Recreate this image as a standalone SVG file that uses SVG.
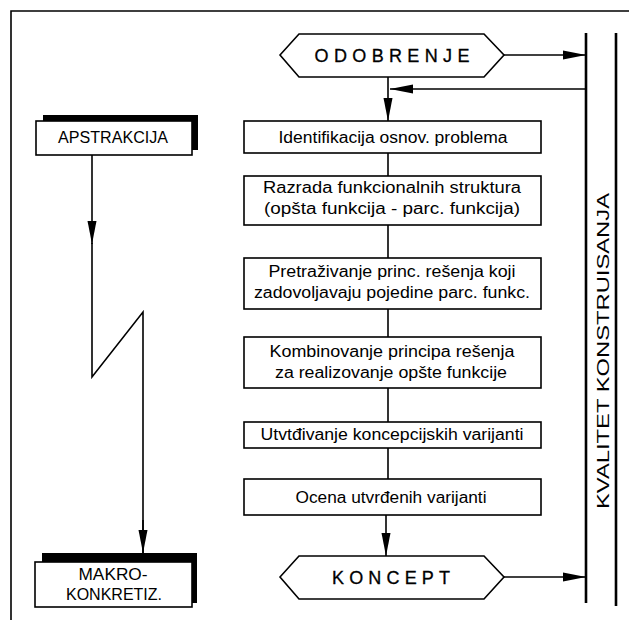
<svg xmlns="http://www.w3.org/2000/svg" width="629" height="620" viewBox="0 0 629 620">
<style>
.box{fill:#fff;stroke:#000;stroke-width:1.6}
.shadow{fill:#000}
.ln{fill:none;stroke:#000;stroke-width:1.6}
.bar{fill:none;stroke:#000;stroke-width:2.6}
.t{font-family:"Liberation Sans",Arial,sans-serif;font-size:16px;fill:#000;text-anchor:middle}
.big{font-family:"Liberation Sans",Arial,sans-serif;font-size:18px;fill:#000;stroke:#000;stroke-width:0.3;text-anchor:middle}
</style>
<defs>
<marker id="ah" markerUnits="userSpaceOnUse" markerWidth="23" markerHeight="10" refX="23" refY="5" orient="auto">
<path d="M0,0.5 L23,5 L0,9.5 z" fill="#000"/>
</marker>
</defs>
<rect width="629" height="620" fill="#fff"/>
<g id="frame">
<path class="ln" d="M11,620 V11 H629"/>
</g>
<g id="connectors">
<path class="ln" d="M504,55 H586" marker-end="url(#ah)"/>
<path class="ln" d="M586,89 H390" marker-end="url(#ah)"/>
<path class="ln" d="M388,77 V121" marker-end="url(#ah)"/>
<path class="ln" d="M388,153 V176"/>
<path class="ln" d="M388,225 V258"/>
<path class="ln" d="M388,309 V337"/>
<path class="ln" d="M388,388 V422"/>
<path class="ln" d="M388,448 V479"/>
<path class="ln" d="M386,515 V556" marker-end="url(#ah)"/>
<path class="ln" d="M504,577 H586" marker-end="url(#ah)"/>
<path class="ln" d="M92,155 V244" marker-end="url(#ah)"/>
<path class="ln" d="M92,243 V377 L143,312 V553"/>
<path class="ln" d="M143,520 V553" marker-end="url(#ah)"/>
</g>
<g id="quality">
<path class="bar" d="M586,33 V603"/>
<path class="bar" d="M616,33 V606"/>
<text class="t" transform="translate(609,351) rotate(-90)" font-size="22" textLength="316" lengthAdjust="spacingAndGlyphs">KVALITET KONSTRUISANJA</text>
</g>
<g id="odobrenje">
<polygon class="box" points="280,55 299,34 484,34 504,55 484,77 299,77"/>
<text class="big" x="392" y="62" textLength="155" lengthAdjust="spacing">ODOBRENJE</text>
</g>
<g id="n1">
<rect class="box" x="244" y="121" width="297" height="32"/>
<text class="t" x="393" y="143" textLength="229" lengthAdjust="spacingAndGlyphs">Identifikacija osnov. problema</text>
</g>
<g id="n2">
<rect class="box" x="244" y="176" width="297" height="49"/>
<text class="t" x="392" y="193" textLength="258" lengthAdjust="spacingAndGlyphs">Razrada funkcionalnih struktura</text>
<text class="t" x="392" y="214" textLength="256" lengthAdjust="spacingAndGlyphs">(opšta funkcija - parc. funkcija)</text>
</g>
<g id="n3">
<rect class="box" x="244" y="258" width="297" height="51"/>
<text class="t" x="392" y="277" textLength="247" lengthAdjust="spacingAndGlyphs">Pretraživanje princ. rešenja koji</text>
<text class="t" x="392" y="298" textLength="276" lengthAdjust="spacingAndGlyphs">zadovoljavaju pojedine parc. funkc.</text>
</g>
<g id="n4">
<rect class="box" x="244" y="337" width="297" height="51"/>
<text class="t" x="392" y="357" textLength="245" lengthAdjust="spacingAndGlyphs">Kombinovanje principa rešenja</text>
<text class="t" x="391" y="378" textLength="232" lengthAdjust="spacingAndGlyphs">za realizovanje opšte funkcije</text>
</g>
<g id="n5">
<rect class="box" x="244" y="422" width="297" height="26"/>
<text class="t" x="392" y="440" textLength="263" lengthAdjust="spacingAndGlyphs">Utvtđivanje koncepcijskih varijanti</text>
</g>
<g id="n6">
<rect class="box" x="244" y="479" width="297" height="36"/>
<text class="t" x="391" y="503" textLength="191" lengthAdjust="spacingAndGlyphs">Ocena utvrđenih varijanti</text>
</g>
<g id="koncept">
<polygon class="box" points="280,577 299,556 484,556 504,577 484,599 299,599"/>
<text class="big" x="391" y="584" textLength="118" lengthAdjust="spacing">KONCEPT</text>
</g>
<g id="apstrakcija">
<rect class="shadow" x="43" y="115" width="155" height="35"/>
<rect class="box" x="36" y="121" width="156" height="34"/>
<text class="t" x="113" y="143" font-size="15" textLength="110" lengthAdjust="spacingAndGlyphs">APSTRAKCIJA</text>
</g>
<g id="makro">
<rect class="shadow" x="42" y="553" width="155" height="50"/>
<rect class="box" x="35" y="562" width="157" height="45"/>
<text class="t" x="113" y="580" textLength="69" lengthAdjust="spacingAndGlyphs">MAKRO-</text>
<text class="t" x="114" y="600" textLength="96" lengthAdjust="spacingAndGlyphs">KONKRETIZ.</text>
</g>
</svg>
